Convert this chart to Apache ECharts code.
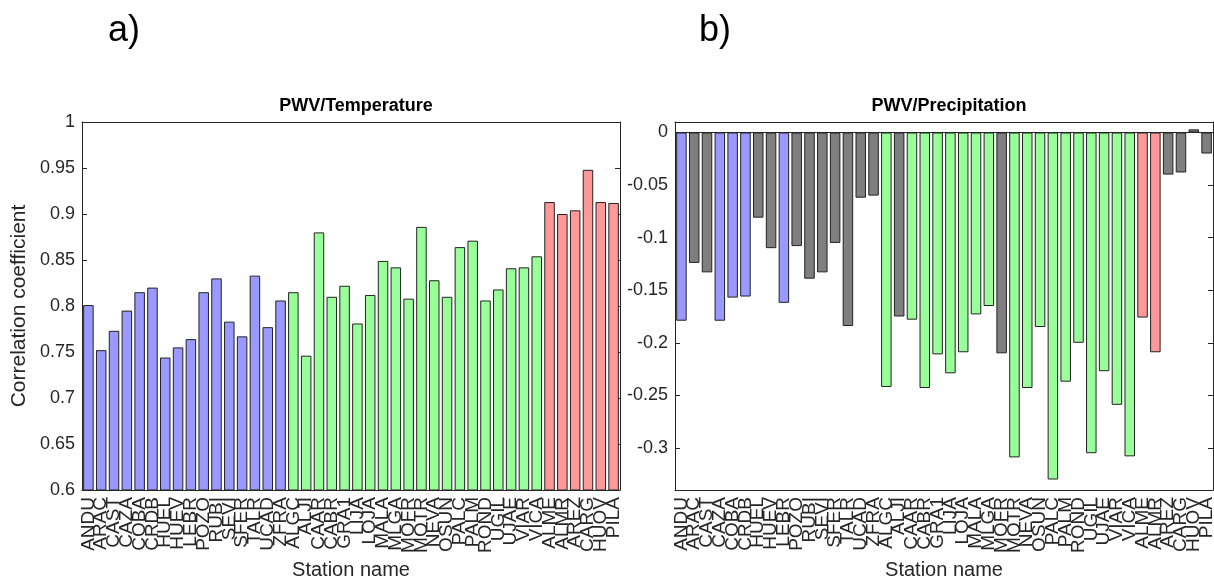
<!doctype html>
<html>
<head>
<meta charset="utf-8">
<title>PWV correlation</title>
<script src="https://cdn.jsdelivr.net/npm/echarts@6/dist/echarts.min.js"></script>
<style>
    html, body { margin: 0; background: #fff; }
    #main { width: 1214px; height: 577px; }
</style>
</head>
<body>
<div id="main"></div>
<script type="text/javascript">
    // station codes, same order in both panels
    var stations = ['ANDU', 'ARAC', 'CAST', 'CAZA', 'COBA', 'CRDB', 'HUEL', 'HUEV', 'LEBR', 'POZO', 'RUBI',
        'SEVI', 'SFER', 'TALR', 'UCAD', 'ZFRA', 'ALGC', 'ALJI', 'CAAR', 'CABR', 'GRA1', 'LIJA', 'LOJA',
        'MALA', 'MLGA', 'MOFR', 'MOTR', 'NEVA', 'OSUN', 'PALC', 'PALM', 'ROND', 'UGIL', 'UJAE', 'VIAR',
        'VICA', 'ALME', 'ALMR', 'AREZ', 'CARG', 'HUOV', 'PILA'];

    // a) PWV / temperature
    var tempCorr = [0.801, 0.752, 0.773, 0.795, 0.815, 0.820, 0.744, 0.755, 0.764, 0.815, 0.830,
        0.783, 0.767, 0.833, 0.777, 0.806, 0.815, 0.746, 0.880, 0.810, 0.822, 0.781, 0.812,
        0.849, 0.842, 0.808, 0.886, 0.828, 0.810, 0.864, 0.871, 0.806, 0.818, 0.841, 0.842,
        0.854, 0.913, 0.900, 0.904, 0.948, 0.913, 0.912];
    var tempGroup = ['b', 'b', 'b', 'b', 'b', 'b', 'b', 'b', 'b', 'b', 'b', 'b', 'b', 'b', 'b', 'b',
        'g', 'g', 'g', 'g', 'g', 'g', 'g', 'g', 'g', 'g', 'g', 'g', 'g', 'g', 'g', 'g', 'g', 'g', 'g', 'g',
        'r', 'r', 'r', 'r', 'r', 'r'];

    // b) PWV / precipitation
    var precCorr = [-0.179, -0.124, -0.133, -0.179, -0.157, -0.156, -0.081, -0.110, -0.162, -0.108, -0.139,
        -0.133, -0.105, -0.184, -0.062, -0.060, -0.242, -0.175, -0.178, -0.243, -0.211, -0.229, -0.209,
        -0.173, -0.165, -0.210, -0.309, -0.243, -0.185, -0.330, -0.237, -0.200, -0.305, -0.227, -0.259,
        -0.308, -0.176, -0.209, -0.040, -0.038, 0.003, -0.020];
    var precGroup = ['b', 'k', 'k', 'b', 'b', 'b', 'k', 'k', 'b', 'k', 'k', 'k', 'k', 'k', 'k', 'k',
        'g', 'k', 'g', 'g', 'g', 'g', 'g', 'g', 'g', 'k', 'g', 'g', 'g', 'g', 'g', 'g', 'g', 'g', 'g', 'g',
        'r', 'r', 'k', 'k', 'k', 'k'];

    var yTicksB = [0, -0.05, -0.1, -0.15, -0.2, -0.25, -0.3];

    var groupColor = {b: '#9999ff', g: '#99ff99', r: '#ff9999', k: '#7f7f7f'};
    var ink = '#262626';
    var font = 'Liberation Sans, Arial, sans-serif';

    function barData(vals, groups) {
        return vals.map(function (v, i) {
            return {value: v, itemStyle: {color: groupColor[groups[i]]}};
        });
    }

    function catAxis(grid, pos, labels) {
        return {
            type: 'category', gridIndex: grid, position: pos, data: stations,
            axisLine: {onZero: false, lineStyle: {color: ink, width: 1}},
            axisTick: {inside: true, length: 5, alignWithLabel: true, lineStyle: {color: ink}},
            axisLabel: labels ? {
                show: true, interval: 0, rotate: 90, margin: 7,
                color: ink, fontSize: 19, fontFamily: font
            } : {show: false},
            name: labels ? 'Station name' : '',
            nameLocation: 'middle', nameGap: 68,
            nameTextStyle: {color: ink, fontSize: 20, fontFamily: font},
            splitLine: {show: false}
        };
    }

    function valAxis(grid, pos, min, max, labels, custom) {
        var ax = {
            type: 'value', gridIndex: grid, position: pos, min: min, max: max,
            axisLine: {show: true, lineStyle: {color: ink, width: 1}},
            axisTick: {show: true, inside: true, length: 5, lineStyle: {color: ink}},
            axisLabel: labels ? {show: true, margin: 7, color: ink, fontSize: 18, fontFamily: font} : {show: false},
            splitLine: {show: false}
        };
        if (custom) {
            ax.axisTick.customValues = custom;
            if (labels) ax.axisLabel.customValues = custom;
        } else {
            ax.interval = 0.05;
        }
        return ax;
    }

    var myChart = echarts.init(document.getElementById('main'));
    var option = {
        animation: false,
        backgroundColor: '#fff',
        title: [
            {text: 'PWV/Temperature', left: 351, top: 92, textAlign: 'center',
                textStyle: {color: '#000', fontSize: 18, fontWeight: 'bold', fontFamily: font}},
            {text: 'PWV/Precipitation', left: 944, top: 92, textAlign: 'center',
                textStyle: {color: '#000', fontSize: 18, fontWeight: 'bold', fontFamily: font}}
        ],
        graphic: [
            {type: 'text', left: 108, top: 13, style: {text: 'a)', fontSize: 36, fill: '#000', fontFamily: font}},
            {type: 'text', left: 699, top: 13, style: {text: 'b)', fontSize: 36, fill: '#000', fontFamily: font}}
        ],
        grid: [
            {left: 82, top: 122, width: 538, height: 368, containLabel: false, outerBoundsMode: 'none'},
            {left: 675, top: 122, width: 538, height: 368, containLabel: false, outerBoundsMode: 'none'}
        ],
        xAxis: [
            catAxis(0, 'bottom', true),
            catAxis(0, 'top', false),
            catAxis(1, 'bottom', true),
            catAxis(1, 'top', false)
        ],
        yAxis: [
            (function () {
                var a = valAxis(0, 'left', 0.6, 1, true);
                a.name = 'Correlation coefficient';
                a.nameLocation = 'middle';
                a.nameGap = 52;
                a.nameTextStyle = {color: ink, fontSize: 21, fontFamily: font};
                return a;
            })(),
            valAxis(0, 'right', 0.6, 1, false),
            valAxis(1, 'left', -0.34, 0.01, true, yTicksB),
            valAxis(1, 'right', -0.34, 0.01, false, yTicksB)
        ],
        series: [
            {
                type: 'bar', xAxisIndex: 0, yAxisIndex: 0,
                data: barData(tempCorr, tempGroup),
                barCategoryGap: '18%',
                itemStyle: {borderColor: '#222', borderWidth: 1}
            },
            {
                type: 'bar', xAxisIndex: 2, yAxisIndex: 2,
                data: barData(precCorr, precGroup),
                barCategoryGap: '18%',
                itemStyle: {borderColor: '#222', borderWidth: 1},
                markLine: {
                    silent: true, symbol: 'none', label: {show: false},
                    lineStyle: {color: ink, width: 1, type: 'solid'},
                    data: [{yAxis: 0}]
                }
            }
        ]
    };
    myChart.setOption(option);
</script>
</body>
</html>
